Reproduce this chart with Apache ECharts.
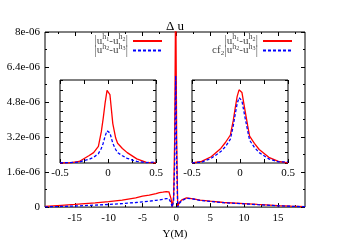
<!DOCTYPE html>
<html><head><meta charset="utf-8">
<script src="https://cdn.jsdelivr.net/npm/echarts@6/dist/echarts.min.js"></script>
<style>html,body{margin:0;padding:0;background:#fff}#c{width:350px;height:245px}</style>
</head><body><div id="c"></div>
<script>
// ---- data (y values in units of 1e-6) ----
const mainX    = [-19.4,-17,-15,-12,-10,-8,-6,-5,-4,-3,-2.5,-2,-1.5,-1.1,-0.8,-0.6,-0.4,-0.25,-0.1,0.05,0.2,0.4,0.8,1.5,2.5,3.5,5,7,10,12,15,17,19];
const mainRed  = [0.03,0.08,0.12,0.19,0.25,0.32,0.42,0.5,0.55,0.62,0.66,0.68,0.71,0.70,0.40,0.0,0.5,3.0,10,3.0,0.0,0.2,0.33,0.42,0.38,0.32,0.27,0.21,0.16,0.12,0.07,0.04,0.02];
const mainBlue = [0.01,0.03,0.05,0.09,0.12,0.16,0.21,0.24,0.27,0.31,0.33,0.35,0.39,0.38,0.2,0.0,0.3,2.0,6.0,2.0,0.0,0.15,0.3,0.40,0.37,0.31,0.26,0.20,0.15,0.11,0.06,0.035,0.015];

const insetX    = [-0.5,-0.4,-0.3,-0.2,-0.15,-0.1,-0.07,-0.05,-0.03,-0.01,0,0.02,0.05,0.08,0.1,0.15,0.2,0.3,0.4,0.5];
const leftRed   = [0,0.02,0.15,0.7,1.0,1.6,3.0,4.3,5.8,7.0,7.13,6.6,3.8,2.4,1.9,1.4,1.0,0.4,0.06,0];
const leftBlue  = [0.02,0.03,0.1,0.35,0.55,0.9,1.4,1.9,2.6,3.1,3.2,2.9,1.9,1.3,1.0,0.7,0.45,0.15,0.04,0.1];
const rightRed  = [0,0.15,0.6,1.4,2.0,2.7,4.1,5.3,6.4,7.05,7.13,6.8,5.2,3.6,2.6,1.9,1.3,0.55,0.15,0];
const rightBlue = [0.02,0.08,0.45,1.1,1.6,2.3,3.6,4.7,5.7,6.3,6.4,6.0,4.5,3.1,2.2,1.5,1.0,0.4,0.1,0.1];

const xMajor = [-15,-10,-5,0,5,10,15];
const xMinor = [-17.5,-12.5,-7.5,-2.5,2.5,7.5,12.5,17.5];
const yTickLabels = ['0','1.6e-06','3.2e-06','4.8e-06','6.4e-06','8e-06'];
const insetTickLabels = ['-0.5','0','0.5'];

const FONT = 'Liberation Serif';
const RED = '#ff0000', BLUE = '#0000ff';
const zip = (xs, ys) => xs.map((x, i) => [x, ys[i]]);

const blackLine = {color:'#000', width:1};
function tickAxisX(grid, pos, vals, len, min, max, label) {
  return {
    type:'value', gridIndex:grid, position:pos, min:min, max:max,
    axisLine:{show:false, onZero:false}, splitLine:{show:false},
    axisTick:{show:true, inside:true, length:len, customValues:vals, lineStyle:blackLine},
    axisLabel: label ? Object.assign({show:true, customValues:vals, color:'#000', fontFamily:FONT, fontSize:11}, label) : {show:false, customValues:vals}
  };
}
function insetX_axis(grid, pos, label) {
  return {
    type:'value', gridIndex:grid, position:pos, min:-0.5, max:0.5, interval:0.25,
    axisLine:{show:false, onZero:false}, splitLine:{show:false},
    axisTick:{show:true, inside:true, length:4, lineStyle:blackLine},
    axisLabel: label ? {show:true, margin:5, color:'#000', fontFamily:FONT, fontSize:11,
      formatter: v => { const k = Math.round(v*2); return (Math.abs(v*2 - k) < 1e-6) ? insetTickLabels[k+1] : ''; }} : {show:false}
  };
}
function insetY_axis(grid, pos) {
  return {
    type:'value', gridIndex:grid, position:pos, min:0, max:8, interval:1,
    axisLine:{show:false, onZero:false}, splitLine:{show:false},
    axisTick:{show:true, inside:true, length:3, lineStyle:blackLine},
    axisLabel:{show:false}
  };
}

const TC = '#444';
const rich = {
  bar:{fontSize:13, fontFamily:FONT, color:'#666'},
  u:{fontSize:11, fontFamily:FONT, color:TC},
  h:{fontSize:8, fontFamily:FONT, color:TC, padding:[0,0,8,0]},
  d:{fontSize:6, fontFamily:FONT, color:TC, padding:[0,0,4,0]},
  c:{fontSize:11, fontFamily:FONT, color:TC},
  cs:{fontSize:7, fontFamily:FONT, color:TC, padding:[5,0,0,0]}
};
const term = (a, b) => '{bar||}{u|u}{h|h}{d|' + a + '}{u|-u}{h|h}{d|' + b + '}{bar||}';
const legendText = {
  'A1': term(1,2),
  'A2': term(2,3),
  'B1': term(1,2),
  'B2': '{c|cf}{cs|2}' + term(2,3)
};

const redStyle = {color:RED, width:1.3, type:'solid'};
const blueStyle = {color:BLUE, width:1.3, type:[3,2]};
function ser(name, xi, yi, data, ls) {
  return {type:'line', name:name, xAxisIndex:xi, yAxisIndex:yi, data:data, showSymbol:false, symbol:'none',
          lineStyle:ls, itemStyle:{color:ls.color}, clip:true, animation:false, z: ls.color===RED?3:4};
}
function legendCfg(names, right) {
  return {data:names, orient:'vertical', align:'right', right:right, top:33, itemWidth:29, itemHeight:10, itemGap:-5,
          itemStyle:{color:'rgba(0,0,0,0)', borderColor:'rgba(0,0,0,0)', borderWidth:0, opacity:0},
          formatter:n => legendText[n], textStyle:{rich:rich}, selectedMode:false, padding:0, z:10};
}

const option = {
  animation:false,
  backgroundColor:'#fff',
  title:{text:'Δ u', left:'center', top:15, textStyle:{fontFamily:FONT, fontSize:13, fontWeight:'normal', color:'#000'}},
  legend:[ legendCfg(['A1','A2'],187), legendCfg(['B1','B2'],57) ],
  grid:[
    {left:45, right:45, top:32, bottom:33, show:true, borderColor:'#000', borderWidth:1, backgroundColor:'#fff'},
    {left:60, top:80, width:96, height:83, show:true, borderColor:'#000', borderWidth:1, backgroundColor:'#fff'},
    {left:192, top:80, width:96, height:83, show:true, borderColor:'#000', borderWidth:1, backgroundColor:'#fff'}
  ],
  xAxis:[
    Object.assign(tickAxisX(0,'bottom',xMajor,4,-19.4,19,{margin:6}), {name:'Y(M)', nameLocation:'middle', nameGap:18,
      nameTextStyle:{fontFamily:FONT, fontSize:11, color:'#000'}}),
    tickAxisX(0,'bottom',xMinor,2,-19.4,19,null),
    tickAxisX(0,'top',xMajor,4,-19.4,19,null),
    tickAxisX(0,'top',xMinor,2,-19.4,19,null),
    insetX_axis(1,'bottom',true),
    insetX_axis(1,'top',false),
    insetX_axis(2,'bottom',true),
    insetX_axis(2,'top',false)
  ],
  yAxis:[
    {type:'value', gridIndex:0, position:'left', min:0, max:8, interval:1.6,
     axisLine:{show:false, onZero:false}, splitLine:{show:false},
     axisTick:{show:true, inside:true, length:4, lineStyle:blackLine},
     minorTick:{show:true, splitNumber:2, length:2, lineStyle:blackLine},
     axisLabel:{show:true, margin:5, color:'#000', fontFamily:FONT, fontSize:11,
       formatter:v => yTickLabels[Math.round(v/1.6)]}},
    {type:'value', gridIndex:0, position:'right', min:0, max:8, interval:1.6,
     axisLine:{show:false, onZero:false}, splitLine:{show:false},
     axisTick:{show:true, inside:true, length:4, lineStyle:blackLine},
     minorTick:{show:true, splitNumber:2, length:2, lineStyle:blackLine},
     axisLabel:{show:false}},
    insetY_axis(1,'left'), insetY_axis(1,'right'),
    insetY_axis(2,'left'), insetY_axis(2,'right')
  ],
  series:[
    ser('A1',0,0,zip(mainX,mainRed),redStyle),
    ser('A2',0,0,zip(mainX,mainBlue),blueStyle),
    ser('A1',4,2,zip(insetX,leftRed),redStyle),
    ser('A2',4,2,zip(insetX,leftBlue),blueStyle),
    ser('B1',6,4,zip(insetX,rightRed),redStyle),
    ser('B2',6,4,zip(insetX,rightBlue),blueStyle)
  ]
};
const chart = echarts.init(document.getElementById('c'), null, {renderer:'canvas'});
chart.setOption(option);
</script></body></html>
